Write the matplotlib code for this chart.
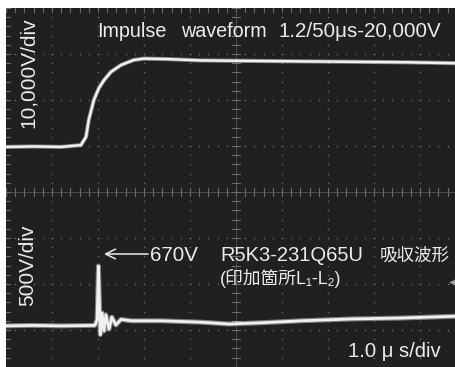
import numpy as np
import matplotlib.pyplot as plt

plt.rcParams['font.family'] = ['Liberation Sans', 'Noto Sans CJK JP', 'DejaVu Sans']

W, H = 456, 367

# screen units: x in divisions (1.0 us/div), y in divisions
ch1_t = [0.0, 0.6, 1.2, 1.63, 1.74, 1.80, 1.91, 2.02, 2.13, 2.28, 2.50, 2.65, 2.78, 3.00,
         3.5, 4.24, 5.3, 6.41, 7.6, 8.7, 9.8, 10.0]
ch1_v = [0.98, 0.99, 0.98, 1.02, 1.20, 1.57, 2.00, 2.26, 2.43, 2.61, 2.76, 2.82, 2.87, 2.90,
         2.89, 2.86, 2.85, 2.84, 2.83, 2.82, 2.80, 2.80]

ch2_t = [0.0, 0.6, 1.2, 1.93, 1.98, 2.01, 2.03, 2.05, 2.09, 2.13, 2.17, 2.24, 2.30,
         2.39, 2.50, 2.72, 3.37, 4.24, 4.85, 5.6, 6.41, 7.5, 8.59, 9.8, 10.0]
ch2_v = [-2.91, -2.90, -2.91, -2.90, -2.78, -1.61, -2.35, -3.10, -2.63, -3.02, -2.67,
         -2.98, -2.72, -2.89, -2.77, -2.80, -2.80, -2.83, -2.87, -2.84, -2.80, -2.76,
         -2.74, -2.70, -2.70]

bg = '#221f20'
grid_c = '#6b6b6b'
trace_c = '#f0f0f0'
text_c = '#ececec'

fig = plt.figure(figsize=(W / 100, H / 100), dpi=100, facecolor='white')
ax = fig.add_axes([6 / W, 1 - (8 + 368) / H, 460 / W, 368 / H])
ax.set_facecolor(bg)
ax.set_xlim(0, 10)
ax.set_ylim(-4, 4)
ax.set_xticks([])
ax.set_yticks([])
for s in ax.spines.values():
    s.set_visible(False)

# graticule: dotted lines at each division
minor_x = np.arange(0, 10.01, 0.2)
minor_y = np.arange(-4, 4.01, 0.2)
for gx in range(1, 10):
    if gx == 5:
        continue
    ax.scatter(np.full(len(minor_y), gx), minor_y, s=1.2, color=grid_c, lw=0, zorder=1)
for gy in range(-3, 4):
    if gy == 0:
        continue
    ax.scatter(minor_x, np.full(len(minor_x), gy), s=1.2, color=grid_c, lw=0, zorder=1)

# centre axes with tick marks
ax.axhline(0, color='#4c4c4c', lw=0.7, zorder=1)
ax.axvline(5, color='#4c4c4c', lw=0.7, zorder=1)
for tx in minor_x:
    ax.plot([tx, tx], [-0.08, 0.08], color=grid_c, lw=0.8, zorder=1)
    ax.plot([tx, tx], [3.92, 4.0], color=grid_c, lw=0.8, zorder=1)
for ty in minor_y:
    ax.plot([4.92, 5.08], [ty, ty], color=grid_c, lw=0.8, zorder=1)
    ax.plot([0.0, 0.08], [ty, ty], color=grid_c, lw=0.8, zorder=1)

# traces
ax.plot(ch1_t, ch1_v, color=trace_c, lw=3.0, alpha=0.45, solid_joinstyle='round', zorder=3)
ax.plot(ch1_t, ch1_v, color=trace_c, lw=1.8, solid_joinstyle='round', zorder=4)
ax.plot(ch2_t, ch2_v, color=trace_c, lw=3.6, alpha=0.45, solid_joinstyle='round', zorder=3)
ax.plot(ch2_t, ch2_v, color=trace_c, lw=2.0, solid_joinstyle='round', zorder=4)

# right-edge position marker
ax.scatter([9.72], [-1.96], marker='<', s=40, color='#9c9c9c', lw=0, zorder=5)


def px(x, y):
    return x / W, 1 - y / H


fig.text(*px(97, 37), 'Impulse', color=text_c, fontsize=14.2)
fig.text(*px(181, 37), 'waveform', color=text_c, fontsize=14.2)
fig.text(*px(279, 37), '1.2/50μs-20,000V', color=text_c, fontsize=14.8)

fig.text(*px(28, 128), '10,000V/div', color=text_c, fontsize=15, rotation=90,
         ha='center', va='bottom')
fig.text(*px(28, 306), '500V/div', color=text_c, fontsize=15, rotation=90,
         ha='center', va='bottom')

fig.text(*px(150, 261), '670V', color=text_c, fontsize=14.8)
fig.text(*px(220, 261), 'R5K3-231Q65U', color=text_c, fontsize=14.5)
fig.text(*px(380, 261), '吸収波形', color=text_c, fontsize=12.6,
         family=['Noto Sans CJK JP'])
fig.text(*px(220, 284), '(印加箇所L₁-L₂)', color=text_c, fontsize=12.8)
fig.text(*px(348, 357), '1.0 μ s/div', color=text_c, fontsize=14.6)

ax.annotate('', xy=px(104, 254), xytext=px(148, 254), xycoords='figure fraction',
            textcoords='figure fraction',
            arrowprops=dict(arrowstyle='->,head_length=0.7,head_width=0.35',
                            color=text_c, lw=1.1, shrinkA=0, shrinkB=0))

fig.savefig('out.png', dpi=100, facecolor='white')
